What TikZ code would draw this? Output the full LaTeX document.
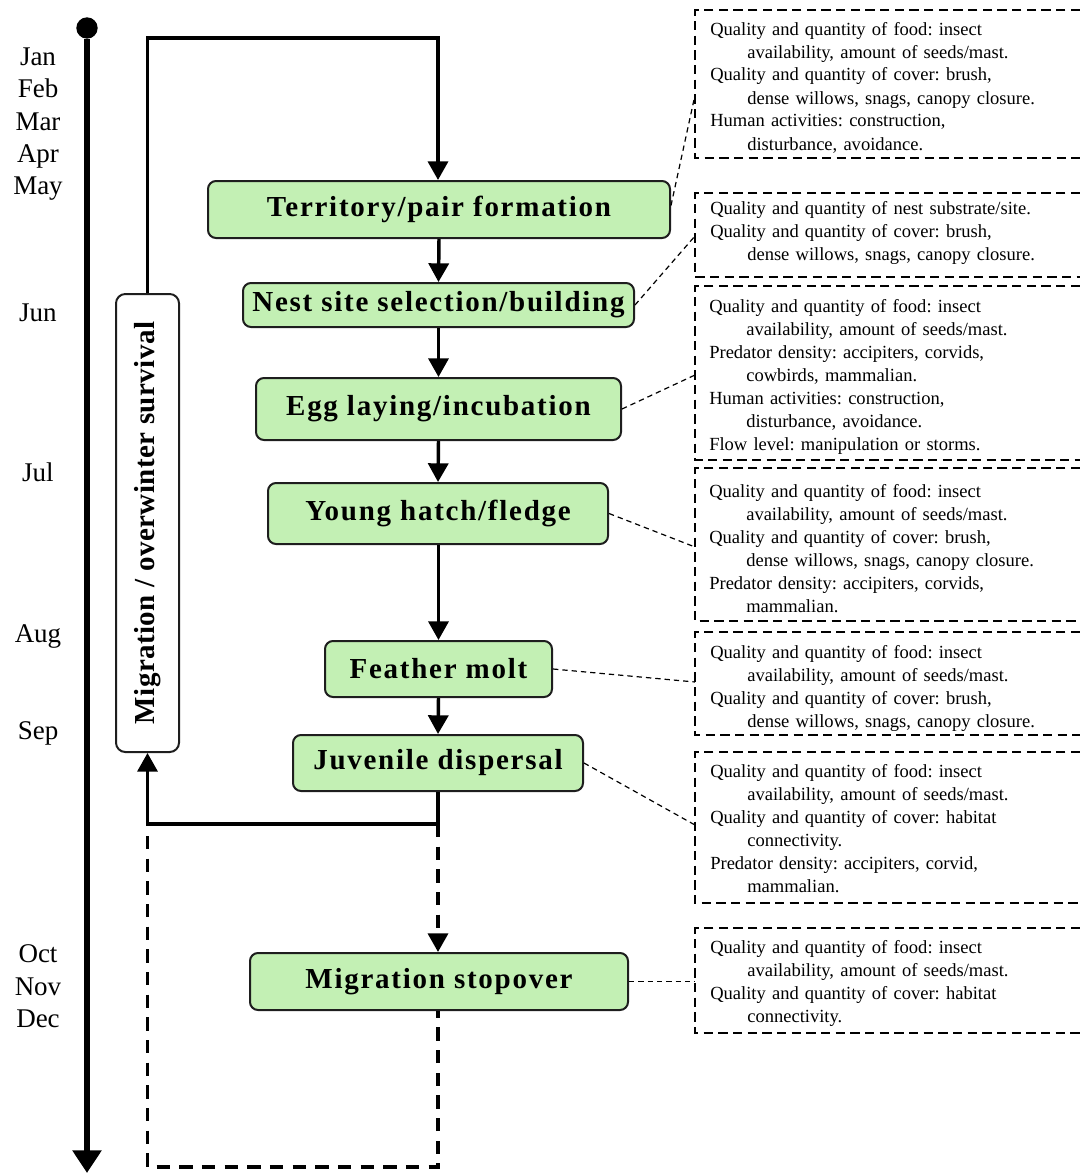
\documentclass[tikz,border=0pt]{standalone}
\usepackage{fontspec}
\setmainfont{Liberation Serif}
\newfontfamily\stagefont[LetterSpace=6]{Liberation Serif}
\newfontfamily\sidefont[LetterSpace=1.5]{Liberation Serif}
\usetikzlibrary{arrows.meta}
\definecolor{stagefill}{RGB}{195,240,180}
\definecolor{stageline}{RGB}{30,30,30}
\newcommand\contline{\hspace*{27.75pt}}
\frenchspacing

\begin{document}
\begin{tikzpicture}[x=0.75pt,y=-0.75pt,
  stage/.style={draw=stageline, line width=1.5pt, fill=stagefill,
    rounded corners=6pt, inner sep=0pt, text=black,
    font=\stagefont\bfseries\fontsize{21.75pt}{26pt}\selectfont},
  flow/.style={line width=2.6pt, -{Triangle[width=15pt,length=14pt]}},
  flowline/.style={line width=2.6pt},
  flowdash/.style={line width=2.6pt, dash pattern=on 10pt off 7pt},
  factorbox/.style={line width=1.1pt, dash pattern=on 7pt off 4pt},
  factortext/.style={anchor=base west, inner sep=0pt, text width=370pt,
    align=left, font=\fontsize{13.9pt}{17.25pt}\selectfont},
  link/.style={line width=0.9pt, dash pattern=on 4pt off 3pt},
  month/.style={anchor=base, inner sep=0pt,
    font=\fontsize{20.25pt}{24pt}\selectfont}
]
\useasboundingbox (0,0) rectangle (1080,1174);

% time axis
\node[circle, fill=black, inner sep=0pt, minimum size=16pt] (start) at (87,28) {};
\coordinate (axisend) at (87,1173);
\draw[line width=4.5pt, -{Triangle[width=21pt,length=17pt]}] (start) -- (axisend);

\node[month] (jan) at (38,65) {Jan};
\node[month] (feb) at (38,97) {Feb};
\node[month] (mar) at (38,130) {Mar};
\node[month] (apr) at (38,162) {Apr};
\node[month] (may) at (38,194) {May};
\node[month] (jun) at (38,321) {Jun};
\node[month] (jul) at (38,481) {Jul};
\node[month] (aug) at (38,642) {Aug};
\node[month] (sep) at (38,739) {Sep};
\node[month] (oct) at (38,962) {Oct};
\node[month] (nov) at (38,995) {Nov};
\node[month] (dec) at (38,1027) {Dec};

% life-cycle stages
\node[stage, minimum width=346.5pt, minimum height=42.75pt] (terr) at (439,209.5) {Territory/pair formation};
\node[stage, minimum width=293.25pt, minimum height=33pt] (nest) at (438.5,305) {Nest site selection/building};
\node[stage, minimum width=273.75pt, minimum height=46.5pt] (egg) at (438.5,409) {Egg laying/incubation};
\node[stage, minimum width=255pt, minimum height=45.75pt] (young) at (438,513.5) {Young hatch/fledge};
\node[stage, minimum width=170.25pt, minimum height=42pt] (molt) at (438.5,669) {Feather molt};
\node[stage, minimum width=217.5pt, minimum height=42pt] (juv) at (438,763) {Juvenile dispersal};
\node[stage, minimum width=283.5pt, minimum height=42.75pt] (stop) at (439,981.5) {Migration stopover};
\node[draw=stageline, line width=1.5pt, fill=white, rounded corners=7pt,
  inner sep=0pt, rotate=90, minimum width=343.5pt, minimum height=47.25pt,
  font=\sidefont\bfseries\fontsize{21.75pt}{26pt}\selectfont]
  (winter) at (147.5,523) {Migration / overwinter survival};

% flow between stages
\draw[flow] (terr.south) -- (nest.north);
\draw[flow] (nest.south) -- (egg.north);
\draw[flow] (egg.south) -- (young.north);
\draw[flow] (young.south -| molt.north) -- (molt.north);
\draw[flow] (molt.south) -- (juv.north);

\coordinate (split) at (438,824);
\coordinate (corner) at (147.5,824);
\coordinate (topleft) at (147.5,38);
\coordinate (topright) at (438,38);
\coordinate (botleft) at (147.5,1167);
\coordinate (botright) at (438,1167);

\draw[flowline] (juv.south -| split) -- (split);
\draw[flow] (split) -- (corner) -- (winter.west);
\draw[flow] (winter.east) -- (topleft) -- (topright) -- (terr.north -| topright);
\draw[flowdash, -{Triangle[width=15pt,length=14pt]}] (split) -- (stop.north -| split);
\draw[flowdash] ([yshift=-9pt]corner) -- (botleft) -- (botright) -- (stop.south -| botright);

% limiting factors
\draw[factorbox] (1080,10) -| (695,158) -- (1080,158);
\draw[factorbox] (1080,193) -| (695,277) -- (1080,277);
\draw[factorbox] (1080,286) -| (695,460) -- (1080,460);
\draw[factorbox] (1080,468) -| (695,621) -- (1080,621);
\draw[factorbox] (1080,632) -| (695,735) -- (1080,735);
\draw[factorbox] (1080,752) -| (695,903) -- (1080,903);
\draw[factorbox] (1080,928) -| (695,1033) -- (1080,1033);

\node[factortext] (f1) at (710,35) {Quality and quantity of food: insect\\
\contline availability, amount of seeds/mast.\\
Quality and quantity of cover: brush,\\
\contline dense willows, snags, canopy closure.\\
Human activities: construction,\\
\contline disturbance, avoidance.};

\node[factortext] (f2) at (710,214) {Quality and quantity of nest substrate/site.\\
Quality and quantity of cover: brush,\\
\contline dense willows, snags, canopy closure.};

\node[factortext] (f3) at (709,312) {Quality and quantity of food: insect\\
\contline availability, amount of seeds/mast.\\
Predator density: accipiters, corvids,\\
\contline cowbirds, mammalian.\\
Human activities: construction,\\
\contline disturbance, avoidance.\\
Flow level: manipulation or storms.};

\node[factortext] (f4) at (709,497) {Quality and quantity of food: insect\\
\contline availability, amount of seeds/mast.\\
Quality and quantity of cover: brush,\\
\contline dense willows, snags, canopy closure.\\
Predator density: accipiters, corvids,\\
\contline mammalian.};

\node[factortext] (f5) at (710,658) {Quality and quantity of food: insect\\
\contline availability, amount of seeds/mast.\\
Quality and quantity of cover: brush,\\
\contline dense willows, snags, canopy closure.};

\node[factortext] (f6) at (710,777) {Quality and quantity of food: insect\\
\contline availability, amount of seeds/mast.\\
Quality and quantity of cover: habitat\\
\contline connectivity.\\
Predator density: accipiters, corvid,\\
\contline mammalian.};

\node[factortext] (f7) at (710,953) {Quality and quantity of food: insect\\
\contline availability, amount of seeds/mast.\\
Quality and quantity of cover: habitat\\
\contline connectivity.};

% links from stages to their factors
\coordinate (b1) at (695,95);
\coordinate (b2) at (695,236);
\coordinate (b3) at (695,375);
\coordinate (b4) at (695,547);
\coordinate (b5) at (695,682);
\coordinate (b6) at (695,825);
\coordinate (b7) at (695,981.5);
\draw[link] ([yshift=3pt]terr.east) -- (b1);
\draw[link] (nest.east) -- (b2);
\draw[link] (egg.east) -- (b3);
\draw[link] (young.east) -- (b4);
\draw[link] (molt.east) -- (b5);
\draw[link] (juv.east) -- (b6);
\draw[link] (stop.east) -- (b7);
\end{tikzpicture}
\end{document}
